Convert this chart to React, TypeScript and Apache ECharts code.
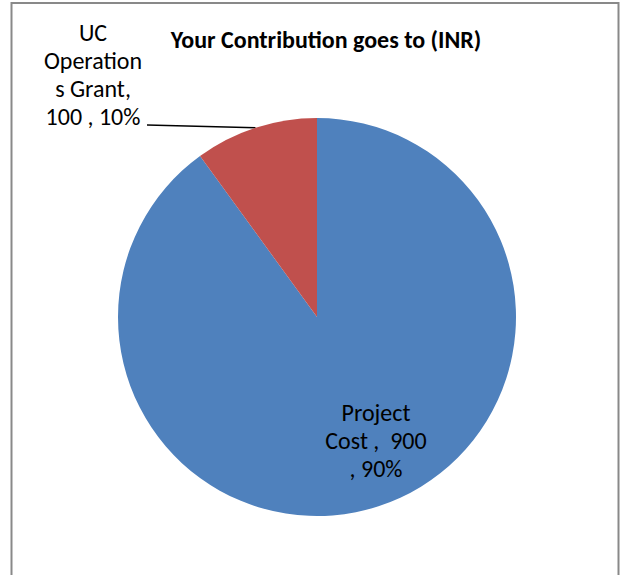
import React, { useEffect, useRef } from "react";
import * as echarts from "echarts";

const titleText = "Your Contribution goes to (INR)";
const categories = ["Project Cost", "UC Operations Grant"];
const values = [900, 100];
const colors = ["#4F81BD", "#C0504D"];
// label text wrapped the way the reference wraps it
const wrappedNames = ["Project\nCost", "UC\nOperation\ns Grant"];

export default function App() {
  const ref = useRef<HTMLDivElement>(null);
  useEffect(() => {
    if (!ref.current) return;
    const chart = echarts.init(ref.current, null, { renderer: "svg" });
    const font = "Carlito, Lato, 'Noto Sans', sans-serif";
    chart.setOption({
      animation: false,
      backgroundColor: "#ffffff",
      title: {
        text: titleText,
        left: 321,
        top: 22,
        textAlign: "center",
        textStyle: { fontFamily: font, fontWeight: "bold", fontSize: 24, color: "#000" },
      },
      graphic: [
        {
          type: "rect",
          shape: { x: 11.5, y: 3, width: 607, height: 600 },
          style: { fill: "none", stroke: "#898989", lineWidth: 2 },
          z: 100,
        },
      ],
      series: [
        {
          type: "pie",
          center: [317, 317],
          radius: 199,
          startAngle: 90,
          clockwise: true,
          data: categories.map((n, i) => ({
            name: n,
            value: values[i],
            itemStyle: { color: colors[i] },
          })),
          label: {
            show: true,
            position: "outside",
            fontFamily: font,
            fontSize: 24,
            lineHeight: 28,
            color: "#000",
            align: "center",
            formatter: (p: any) =>
              p.dataIndex === 0
                ? `${wrappedNames[0]} ,  ${p.value}\n, ${Math.round(p.percent)}%`
                : `${wrappedNames[1]},\n${p.value} , ${Math.round(p.percent)}%`,
          },
          labelLine: {
            show: true,
            lineStyle: { color: "#000", width: 1.5 },
          },
          labelLayout: (p: any) => {
            if (p.dataIndex === 0) {
              return {
                x: 376,
                y: 440,
                align: "center",
                verticalAlign: "middle",
                labelLinePoints: [[376, 440], [376, 440], [376, 440]],
              };
            }
            const pts = p.labelLinePoints;
            const start = pts ? pts[0] : [255, 128];
            return {
              x: 93,
              y: 74,
              align: "center",
              verticalAlign: "middle",
              labelLinePoints: [start, [147, 125], [147, 125]],
            };
          },
          emphasis: { disabled: true },
        },
      ],
    });
    return () => chart.dispose();
  }, []);
  return (
    <div
      ref={ref}
      style={{ position: "fixed", left: 0, top: 0, width: 621, height: 575 }}
    />
  );
}
